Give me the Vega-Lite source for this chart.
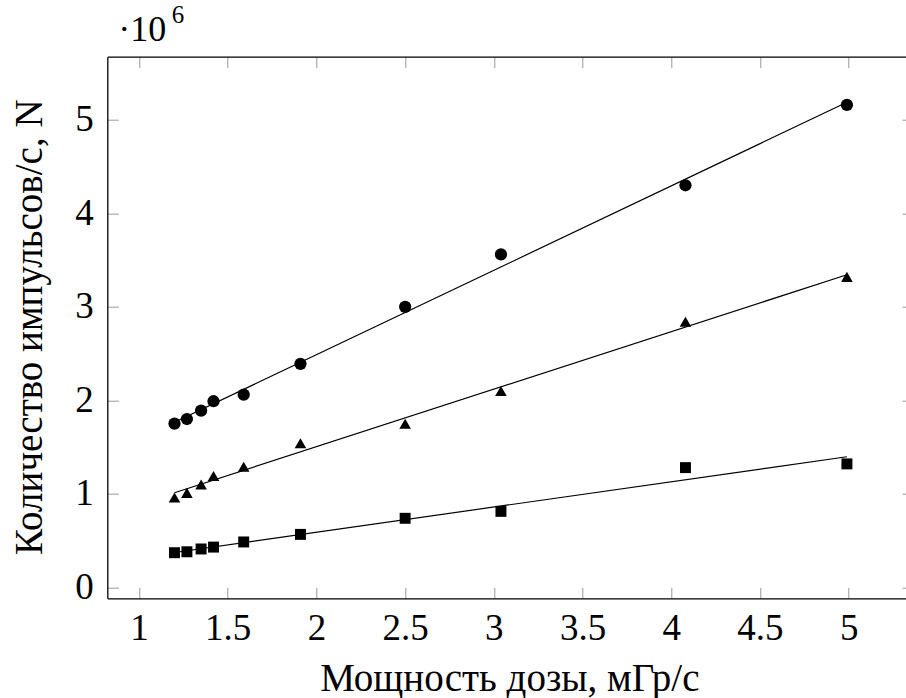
{
  "$schema": "https://vega.github.io/schema/vega-lite/v6.json",
  "width": 798.7,
  "height": 541.6,
  "autosize": {"type": "none"},
  "padding": {"left": 107.3, "top": 56.7, "right": 0, "bottom": 99.7},
  "background": "white",
  "config": {
    "view": {"stroke": null},
    "font": "Liberation Serif",
    "axis": {
      "domainColor": "black",
      "domainWidth": 1.3,
      "tickColor": "#9a9a9a",
      "tickWidth": 1,
      "grid": false,
      "labelFont": "Liberation Serif",
      "labelFontSize": 37,
      "labelColor": "black",
      "titleFont": "Liberation Serif",
      "titleFontSize": 39,
      "titleFontWeight": "normal",
      "titleColor": "black"
    }
  },
  "title": {
    "text": "·10",
    "anchor": "start",
    "frame": "group",
    "font": "Liberation Serif",
    "fontSize": 36,
    "fontWeight": "normal",
    "color": "black",
    "baseline": "alphabetic",
    "dx": 11,
    "dy": 91,
    "offset": 17
  },
  "data": {
    "values": [
      {"series": "a", "dose": 1.2, "N": 1750000},
      {"series": "a", "dose": 1.27, "N": 1800000},
      {"series": "a", "dose": 1.35, "N": 1890000},
      {"series": "a", "dose": 1.42, "N": 1990000},
      {"series": "a", "dose": 1.59, "N": 2060000},
      {"series": "a", "dose": 1.91, "N": 2390000},
      {"series": "a", "dose": 2.5, "N": 3000000},
      {"series": "a", "dose": 3.04, "N": 3560000},
      {"series": "a", "dose": 4.08, "N": 4300000},
      {"series": "a", "dose": 4.99, "N": 5160000},
      {"series": "b", "dose": 1.2, "N": 960000},
      {"series": "b", "dose": 1.27, "N": 1010000},
      {"series": "b", "dose": 1.35, "N": 1100000},
      {"series": "b", "dose": 1.42, "N": 1190000},
      {"series": "b", "dose": 1.59, "N": 1290000},
      {"series": "b", "dose": 1.91, "N": 1540000},
      {"series": "b", "dose": 2.5, "N": 1750000},
      {"series": "b", "dose": 3.04, "N": 2100000},
      {"series": "b", "dose": 4.08, "N": 2840000},
      {"series": "b", "dose": 4.99, "N": 3320000},
      {"series": "c", "dose": 1.2, "N": 370000},
      {"series": "c", "dose": 1.27, "N": 380000},
      {"series": "c", "dose": 1.35, "N": 410000},
      {"series": "c", "dose": 1.42, "N": 430000},
      {"series": "c", "dose": 1.59, "N": 485000},
      {"series": "c", "dose": 1.91, "N": 566000},
      {"series": "c", "dose": 2.5, "N": 738000},
      {"series": "c", "dose": 3.04, "N": 812000},
      {"series": "c", "dose": 4.08, "N": 1280000},
      {"series": "c", "dose": 4.99, "N": 1320000}
    ]
  },
  "resolve": {"axis": {"x": "independent", "y": "independent"}},
  "layer": [
    {
      "transform": [{"regression": "N", "on": "dose", "groupby": ["series"], "method": "linear"}],
      "mark": {"type": "line", "color": "black", "strokeWidth": 1.2},
      "encoding": {
        "x": {
          "field": "dose", "type": "quantitative",
          "scale": {"domain": [0.8213, 5.323], "nice": false, "zero": false},
          "axis": {
            "orient": "top", "values": [1, 1.5, 2, 2.5, 3, 3.5, 4, 4.5, 5], "labels": false,
            "title": "6", "titleFontSize": 25, "titleX": 64, "titleY": -34,
            "titleAlign": "left", "titleBaseline": "alphabetic", "titleAnchor": null,
            "tickSize": -11, "domain": true
          }
        },
        "y": {
          "field": "N", "type": "quantitative",
          "scale": {"domain": [-117600, 5675000], "nice": false, "zero": false},
          "axis": {"orient": "right", "values": [0, 1000000, 2000000, 3000000, 4000000, 5000000], "labels": false, "title": null, "tickSize": -4, "domain": false}
        },
        "detail": {"field": "series"}
      }
    },
    {
      "mark": {"type": "point", "filled": true, "opacity": 1, "color": "black", "strokeWidth": 0},
      "encoding": {
        "x": {
          "field": "dose", "type": "quantitative",
          "title": "Мощность дозы, мГр/с",
          "axis": {
            "orient": "bottom",
            "values": [1, 1.5, 2, 2.5, 3, 3.5, 4, 4.5, 5],
            "format": "~g",
            "tickSize": -11,
            "labelPadding": 23,
            "titleX": 402,
            "titleY": 91.7,
            "titleBaseline": "alphabetic",
            "titleAlign": "center",
            "titleAnchor": null
          }
        },
        "y": {
          "field": "N", "type": "quantitative",
          "title": "Количество импульсов/с, N",
          "axis": {
            "orient": "left",
            "values": [0, 1000000, 2000000, 3000000, 4000000, 5000000],
            "labelExpr": "format(datum.value / 1000000, 'd')",
            "tickSize": -11,
            "labelPadding": 25,
            "titleX": -65.6,
            "titleY": 270,
            "titleAngle": -90,
            "titleBaseline": "alphabetic",
            "titleAlign": "center"
          }
        },
        "shape": {
          "field": "series", "type": "nominal",
          "scale": {"domain": ["a", "b", "c"], "range": ["circle", "triangle-up", "square"]},
          "legend": null
        },
        "size": {
          "field": "series", "type": "nominal",
          "scale": {"domain": ["a", "b", "c"], "range": [150, 120, 140]},
          "legend": null
        }
      }
    }
  ]
}
